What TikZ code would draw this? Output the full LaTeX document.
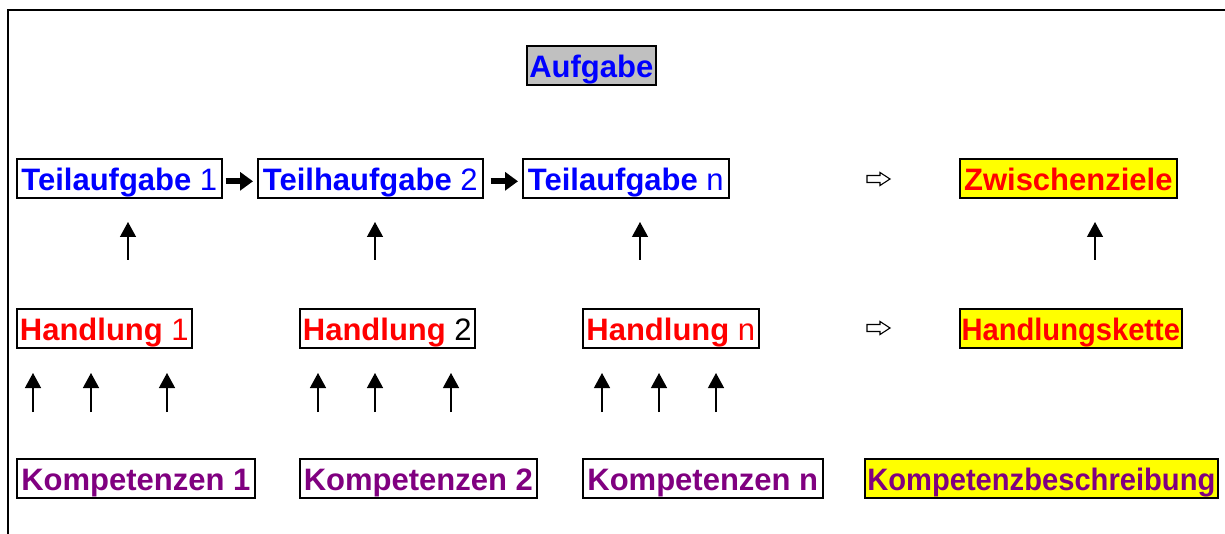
\documentclass[tikz,border=0pt]{standalone}
\usepackage{fontspec}
\setmainfont{Liberation Sans}
\usetikzlibrary{arrows.meta}
\definecolor{tblue}{RGB}{0,0,255}
\definecolor{tred}{RGB}{255,0,0}
\definecolor{tpurple}{RGB}{128,0,128}
\definecolor{tgray}{RGB}{192,192,192}
\definecolor{tyellow}{RGB}{255,255,0}
\tikzset{
  x=1pt, y=-1pt,
  box/.style={draw, line width=1.6pt, anchor=north west, inner sep=0pt,
    text height=32pt, text depth=7pt, minimum height=39pt,
    font=\fontsize{31}{31}\selectfont},
  goal/.style={box, fill=tyellow},
  heavy/.style={line width=6pt, -{Triangle[length=13pt,width=18pt]}},
  uparrow/.style={line width=1.3pt, -{Triangle[length=15pt,width=16pt]}},
  hollow/.style={line width=1.1pt, line join=miter},
}
% hollow block arrow, tip pointing right, drawn from its left end
\newcommand\blockarrow[2]{%
  \draw[hollow] (#1,#2-3.5) -- (#1+13,#2-3.5) -- (#1+13,#2-6.5) -- (#1+23,#2)
    -- (#1+13,#2+6.5) -- (#1+13,#2+3.5) -- (#1,#2+3.5) -- cycle;}
% slightly condensed label for the wide summary boxes
\newcommand\narrow[1]{\scalebox{0.94}[1]{#1}}
\begin{document}
\begin{tikzpicture}
\useasboundingbox (0,0) rectangle (1225,534);
% frame
\draw[line width=2pt] (8,534) -- (8,10) -- (1225,10);

% task
\node[box, fill=tgray, minimum width=129pt] (auf) at (526,45)
  {\textcolor{tblue}{\bfseries Aufgabe}};

% subtasks
\node[box, minimum width=205pt] (t1) at (16,158)
  {\color{tblue}\textbf{Teilaufgabe} 1};
\node[box, minimum width=225pt] (t2) at (257,158)
  {\color{tblue}\textbf{Teilhaufgabe} 2};
\node[box, minimum width=206pt] (tn) at (522,158)
  {\color{tblue}\textbf{Teilaufgabe} n};
\node[goal, minimum width=217pt] (zz) at (959,158)
  {\textcolor{tred}{\bfseries Zwischenziele}};

\draw[heavy, shorten <=3pt, shorten >=4pt] ([yshift=-3pt]t1.east) -- ([yshift=-3pt]t2.west);
\draw[heavy, shorten <=7pt, shorten >=4pt] ([yshift=-3pt]t2.east) -- ([yshift=-3pt]tn.west);

% actions
\node[box, minimum width=175pt] (h1) at (16,308)
  {\color{tred}\textbf{Handlung} 1};
\node[box, minimum width=175pt] (h2) at (299,308)
  {\textcolor{tred}{\bfseries Handlung} 2};
\node[box, minimum width=176pt] (hn) at (582,308)
  {\color{tred}\textbf{Handlung} n};
\node[goal, minimum width=222pt] (hk) at (959,308)
  {\narrow{\textcolor{tred}{\bfseries Handlungskette}}};

% competences
\node[box, minimum width=238pt] (k1) at (16,458)
  {\textcolor{tpurple}{\bfseries Kompetenzen 1}};
\node[box, minimum width=237pt] (k2) at (299,458)
  {\textcolor{tpurple}{\bfseries Kompetenzen 2}};
\node[box, minimum width=240pt] (kn) at (582,458)
  {\textcolor{tpurple}{\bfseries Kompetenzen n}};
\node[goal, minimum width=353pt] (kb) at (864,458)
  {\narrow{\textcolor{tpurple}{\bfseries Kompetenzbeschreibung}}};

% hollow arrows towards the summary column
\blockarrow{867}{179}
\blockarrow{867}{328}

% upward arrows: actions -> subtasks
\foreach \x [count=\i] in {128,375,640,1095} {
  \coordinate (ub\i) at (\x,260);
  \coordinate (ut\i) at (\x,222);
  \draw[uparrow] (ub\i) -- (ut\i);
}
% upward arrows: competences -> actions
\foreach \x [count=\i] in {33,91,167,318,375,451,602,659,716} {
  \coordinate (lb\i) at (\x,412);
  \coordinate (lt\i) at (\x,373);
  \draw[uparrow] (lb\i) -- (lt\i);
}
\end{tikzpicture}
\end{document}
